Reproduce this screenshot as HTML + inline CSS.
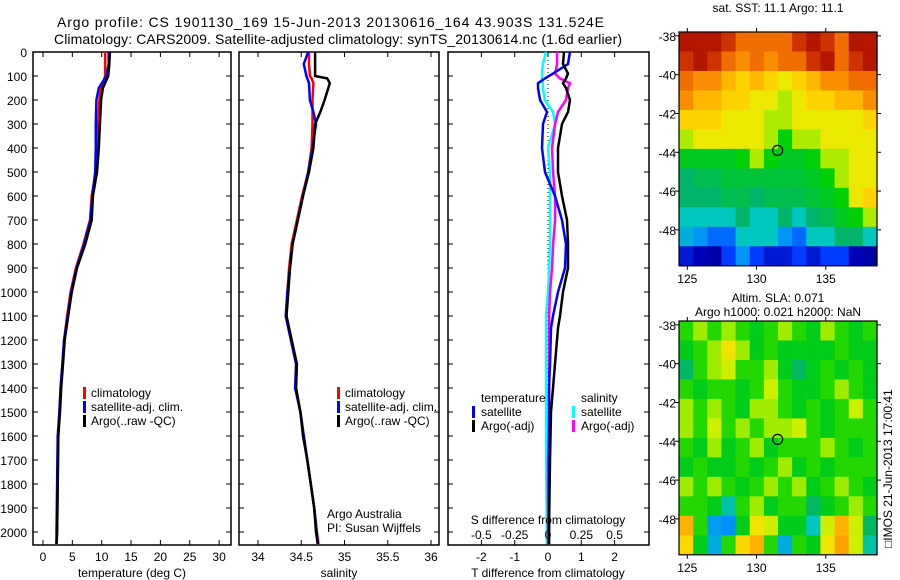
<!DOCTYPE html>
<html><head><meta charset="utf-8"><style>
body{margin:0;background:#fff}
svg{display:block;font-family:"Liberation Sans",sans-serif}
text{fill:#000}
</style></head><body>
<svg id="fig" width="900" height="580" viewBox="0 0 900 580" xmlns="http://www.w3.org/2000/svg">
<rect width="900" height="580" fill="#fff"/>
<text x="57" y="27" font-size="14" textLength="547">Argo profile: CS 1901130_169 15-Jun-2013 20130616_164 43.903S 131.524E</text>
<text x="54" y="44" font-size="14" textLength="568">Climatology: CARS2009. Satellite-adjusted climatology: synTS_20130614.nc (1.6d earlier)</text>
<g id="g1"></g>
<g id="g2"></g>
<g id="g3"></g>
<g id="m1"></g>
<g id="m2"></g>
<text x="778" y="12" font-size="12" text-anchor="middle">sat. SST: 11.1 Argo: 11.1</text>
<text x="778" y="302" font-size="12" text-anchor="middle">Altim. SLA: 0.071</text>
<text x="778" y="316" font-size="12" text-anchor="middle">Argo h1000: 0.021 h2000: NaN</text>
<text transform="translate(892,548) rotate(-90)" font-size="12">□IMOS 21-Jun-2013 17:00:41</text>
</svg>
<script>
const depthT=[0,50,100,150,200,300,400,500,600,700,800,900,1000,1100,1200,1300,1400,1500,1600,1800,2000,2050];
const argoT=[11.4,11.3,11.1,10.2,9.9,9.7,9.5,9.2,8.5,8.3,7.2,5.8,4.9,4.3,3.7,3.4,3.1,2.9,2.6,2.5,2.4,2.3];
const climT=[10.6,10.6,10.6,9.9,9.6,9.4,9.2,9.0,8.3,8.0,6.9,5.6,4.7,4.1,3.6,3.3,3.0,2.8,2.6,2.5,2.4,2.3];
const satT=[11.2,11.2,10.8,9.5,9.1,9.0,9.0,8.9,8.4,8.1,7.0,5.7,4.8,4.2,3.6,3.3,3.0,2.8,2.5,2.4,2.3,2.3];
const depthS=[0,50,100,110,130,200,250,300,400,500,600,700,800,900,1000,1100,1200,1300,1400,1500,1600,1700,1800,1900,2000,2050];
const argoS=[34.66,34.66,34.66,34.80,34.83,34.77,34.72,34.66,34.64,34.59,34.52,34.46,34.40,34.37,34.35,34.33,34.39,34.45,34.44,34.49,34.52,34.57,34.61,34.65,34.67,34.69];
const climS=[34.59,34.59,34.60,34.62,34.64,34.63,34.63,34.63,34.62,34.58,34.51,34.45,34.39,34.36,34.34,34.33,34.38,34.44,34.43,34.49,34.53,34.57,34.61,34.65,34.68,34.70];
const satS=[34.58,34.53,34.56,34.57,34.59,34.60,34.64,34.67,34.63,34.58,34.52,34.46,34.40,34.37,34.34,34.32,34.38,34.44,34.43,34.49,34.53,34.57,34.61,34.65,34.68,34.69];
const depthD=[0,50,90,110,130,150,200,250,300,400,500,550,600,700,800,900,1000,1100,1150,1300,1400,1500,1700,2000,2050];
const argoDT=[0.48,0.45,0.6,0.54,0.45,0.54,0.66,0.6,0.42,0.3,0.3,0.36,0.42,0.57,0.6,0.6,0.45,0.36,0.3,0.21,0.15,0.09,0.06,0.03,0.03];
const satDT=[0.66,0.6,0.15,-0.09,-0.3,-0.3,-0.24,-0.03,-0.15,-0.18,-0.09,0.06,0.21,0.42,0.54,0.51,0.3,0.15,0.09,0.06,0.03,0.03,0.03,0.03,0.03];
const satDS=[-0.015,-0.038,-0.045,-0.045,-0.038,-0.038,-0.023,0.038,0.053,0,0.015,0.015,0.015,0.015,0.015,0.008,0,-0.015,-0.015,-0.015,-0.015,-0.015,-0.015,-0.008,-0.008];
const argoDS=[0.068,0.068,0.053,0.09,0.165,0.15,0.135,0.075,0.053,0.03,0.038,0.045,0.053,0.053,0.038,0.03,0.015,0.008,0.008,0.008,0.008,0.008,0,0,0];
const depthTicks=[0,100,200,300,400,500,600,700,800,900,1000,1100,1200,1300,1400,1500,1600,1700,1800,1900,2000];
const tempTicks=[0,5,10,15,20,25,30];
const salTicks=[34,34.5,35,35.5,36];
const tdiffTicks=[-2,-1,0,1,2];
const sdiffTicks=[-0.5,-0.25,0,0.25,0.5];
const sdiffLabels=["-0.5","-0.25","0","0.25","0.5"];
const lonTicks=[125,130,135];
const latTicks=[-38,-40,-42,-44,-46,-48];
const sstGrid=[
[14.6,14.6,14.6,14.2,13.6,13.6,13.6,13.6,14.2,14.6,14.2,13.6,14.6,14.6],
[14.2,14.6,14.2,13.6,13.3,13.6,13.3,13.6,13.6,14.2,14.6,13.6,14.2,14.6],
[13.6,13.3,13.3,12.9,12.6,12.9,12.6,12.3,12.6,12.9,13.3,13.3,13.6,13.6],
[13.3,12.9,12.9,12.6,12.6,12.3,12.3,12.0,12.3,12.6,12.6,12.9,12.9,13.3],
[12.6,12.6,12.6,12.3,12.3,12.3,12.0,12.0,12.3,12.3,12.3,12.3,12.3,12.6],
[12.0,12.3,12.3,12.3,12.3,12.3,12.0,11.6,12.0,12.0,12.3,12.3,12.3,12.3],
[11.4,11.4,11.4,11.4,11.6,12.0,11.6,11.4,11.4,11.6,12.0,12.0,12.3,12.3],
[11.1,11.2,11.2,11.3,11.3,11.3,11.3,11.3,11.3,11.4,11.6,12.0,12.3,12.3],
[11.1,11.1,11.1,11.2,11.2,11.1,11.2,11.2,11.2,11.3,11.4,11.6,12.3,12.6],
[10.8,10.8,10.8,10.8,11.1,10.8,10.8,11.1,10.8,11.1,11.2,11.4,11.6,12.0],
[10.5,10.2,9.8,9.8,10.8,10.8,10.8,10.2,9.8,10.8,10.8,11.1,11.1,10.8],
[9.0,8.7,8.5,9.4,10.2,9.4,9.0,9.0,9.4,9.0,9.4,9.4,8.7,8.5]];
const slaGrid=[
[0.05,0.08,0.05,0.08,0.05,0.02,0.05,0.08,0.05,0.02,0.08,0.05,0.02,0.05],
[0.02,0.05,0.08,0.13,0.08,0.02,0.05,0.02,0.02,0.02,0.02,0.05,0.02,0.02],
[-0.02,0.05,0.08,0.1,0.05,0.05,0.08,0.02,-0.02,0.02,0.05,0.02,0.05,0.02],
[0.05,0.02,0.05,0.05,0.02,0.05,0.1,0.05,0.02,0.02,0.05,0.08,0.05,0.02],
[0.08,0.05,0.08,0.05,0.02,0.08,0.08,0.05,0.02,0.05,0.02,0.05,0.1,0.05],
[0.08,0.05,0.1,0.05,0.08,0.05,0.08,0.08,0.1,0.05,0.02,0.05,0.05,0.05],
[0.05,0.02,0.08,0.02,0.05,0.08,0.02,0.05,0.05,0.05,0.08,0.05,0.02,0.05],
[0.02,0.05,0.02,0.02,0.05,0.02,0.05,0.08,0.02,0.05,0.02,0.05,0.05,0.05],
[0.08,0.05,0.08,0.05,0.02,0.05,0.08,0.05,0.08,0.02,0.05,0.08,0.05,0.02],
[0.05,0.05,0.02,-0.05,0.05,0.08,0.02,0.05,0.05,-0.02,0.02,0.05,0.08,0.05],
[0.2,0.05,-0.12,-0.14,0.02,0.13,0.1,0.02,0.02,-0.06,0.1,0.2,0.1,-0.02],
[0.15,0.02,-0.1,0.05,0.15,0.2,0.05,-0.1,0.05,0.02,0.13,0.22,0.1,-0.05]];
const argoLon=131.524, argoLat=-43.903;

const NS="http://www.w3.org/2000/svg";
function mk(p,tag,at){const e=document.createElementNS(NS,tag);for(const k in at)e.setAttribute(k,at[k]);p.appendChild(e);return e;}
const TOP=52,BOT=545;
const yD=d=>TOP+d*0.24;

function frame(g,x0,x1,name){
  const r=mk(g,'rect',{x:x0,y:TOP,width:x1-x0,height:BOT-TOP,fill:'none',stroke:'#000','stroke-width':1.5});
  
  
  depthTicks.forEach(d=>{
    mk(g,'line',{x1:x0,x2:x0+5,y1:yD(d),y2:yD(d),stroke:'#000'});
    mk(g,'line',{x1:x1-5,x2:x1,y1:yD(d),y2:yD(d),stroke:'#000'});
  });
}
function xticks(g,ticks,fx,labels){
  ticks.forEach((t,i)=>{
    const x=fx(t);
    mk(g,'line',{x1:x,x2:x,y1:BOT,y2:BOT-5,stroke:'#000'});
    mk(g,'line',{x1:x,x2:x,y1:TOP,y2:TOP+5,stroke:'#000'});
    const tx=mk(g,'text',{x:x,y:561,'font-size':12,'text-anchor':'middle'});
    tx.textContent=labels?labels[i]:String(t);
    
    
  });
}
function line(g,xs,ds,fx,color,name){
  const pts=xs.map((v,i)=>fx(v).toFixed(1)+','+yD(ds[i]).toFixed(1)).join(' ');
  const p=mk(g,'polyline',{points:pts,fill:'none',stroke:color,'stroke-width':2.5});
  
  
}
function txt(g,x,y,s,name,anchor){
  const t=mk(g,'text',{x:x,y:y,'font-size':12,'text-anchor':anchor||'start'});
  t.textContent=s;
  
  
  return t;
}
function legbar(g,x,y,color,name){
  const r=mk(g,'rect',{x:x,y:y-10,width:3,height:12,fill:color});
  
  
}

// Panel 1
const g1=document.getElementById('g1');
const fT=t=>43+5.87*t;
frame(g1,33,231,'temperature-panel');
depthTicks.forEach(d=>txt(g1,27,yD(d)+5,String(d),'depth-tick-label','end'));
xticks(g1,tempTicks,fT);
line(g1,climT,depthT,fT,'#f00','climatology-temperature-line');
line(g1,satT,depthT,fT,'#00f','satellite-temperature-line');
line(g1,argoT,depthT,fT,'#000','argo-temperature-line');
txt(g1,132,577,'temperature (deg C)','x-axis-title','middle');
[['climatology','#f00'],['satellite-adj. clim.','#00f'],['Argo(..raw -QC)','#000']].forEach((l,i)=>{
  legbar(g1,83,397+i*14,l[1],'legend-marker');
  txt(g1,91,397+i*14,l[0],'legend-entry');
});

// Panel 2
const g2=document.getElementById('g2');
const fS=s=>258+86.5*(s-34);
frame(g2,239,439,'salinity-panel');
xticks(g2,salTicks,fS);
line(g2,climS,depthS,fS,'#f00','climatology-salinity-line');
line(g2,satS,depthS,fS,'#00f','satellite-salinity-line');
line(g2,argoS,depthS,fS,'#000','argo-salinity-line');
txt(g2,339,577,'salinity','x-axis-title','middle');
[['climatology','#f00'],['satellite-adj. clim.','#00f'],['Argo(..raw -QC)','#000']].forEach((l,i)=>{
  legbar(g2,337,397+i*14,l[1],'legend-marker');
  txt(g2,345,397+i*14,l[0],'legend-entry');
});
txt(g2,327,518,'Argo Australia','credit-text');
txt(g2,327,532,'PI: Susan Wijffels','credit-text');

// Panel 3
const g3=document.getElementById('g3');
const fD=t=>548+33.3*t;
const fSD=s=>548+133.3*s;
frame(g3,448,649,'difference-panel');
xticks(g3,tdiffTicks,fD);
const zl=mk(g3,'line',{x1:548,x2:548,y1:TOP,y2:BOT,stroke:'#000','stroke-dasharray':'1,3'});


line(g3,satDS,depthD,fSD,'#0ff','satellite-salinity-diff-line');
line(g3,argoDS,depthD,fSD,'#f0f','argo-salinity-diff-line');
line(g3,satDT,depthD,fD,'#00f','satellite-temperature-diff-line');
line(g3,argoDT,depthD,fD,'#000','argo-temperature-diff-line');
txt(g3,548,577,'T difference from climatology','x-axis-title','middle');
txt(g3,548,524,'S difference from climatology','s-axis-title','middle');
sdiffTicks.forEach((s,i)=>txt(g3,fSD(s),539,sdiffLabels[i],'s-tick-label','middle'));
txt(g3,481,402,'temperature','legend-header');
txt(g3,581,402,'salinity','legend-header');
legbar(g3,472,416,'#00f','legend-marker');txt(g3,481,416,'satellite','legend-entry');
legbar(g3,472,430,'#000','legend-marker');txt(g3,481,430,'Argo(-adj)','legend-entry');
legbar(g3,572,416,'#0ff','legend-marker');txt(g3,581,416,'satellite','legend-entry');
legbar(g3,572,430,'#f0f','legend-marker');txt(g3,581,430,'Argo(-adj)','legend-entry');

// Maps
const stops=[[0,[0,0,130]],[0.1,[0,0,180]],[0.2,[0,60,255]],[0.3,[0,140,255]],[0.4,[0,200,190]],[0.44,[0,180,110]],[0.48,[0,200,40]],[0.52,[0,210,0]],[0.56,[150,235,0]],[0.6,[230,240,0]],[0.66,[255,210,0]],[0.72,[255,170,0]],[0.8,[240,110,0]],[0.9,[200,40,0]],[1,[150,0,0]]];
function cmap(t){t=Math.max(0,Math.min(1,t));for(let i=1;i<stops.length;i++){if(t<=stops[i][0]){const a=stops[i-1],b=stops[i],f=(t-a[0])/(b[0]-a[0]);const c=a[1].map((v,k)=>Math.round(v+(b[1][k]-v)*f));return 'rgb('+c.join(',')+')';}}return 'rgb(150,0,0)';}
function drawMap(id,grid,norm,top,name){
  const g=document.getElementById(id);
  const L=679,R=877,lon0=124.4,lon1=138.7,lat0=-37.8,lat1=-49.85;
  const B=top+(lat1-lat0)*-19.4;
  const fx=lo=>L+(lo-lon0)/(lon1-lon0)*(R-L);
  const fy=la=>top+(lat0-la)*19.4;
  const nr=grid.length,nc=grid[0].length,cw=(R-L)/nc,ch=(B-top)/nr;
  grid.forEach((row,r)=>row.forEach((v,c)=>{
    const cell=mk(g,'rect',{x:L+c*cw,y:top+r*ch,width:cw+0.6,height:ch+0.6,fill:cmap(norm(v))});
    
    
  }));
  mk(g,'rect',{x:L,y:top,width:R-L,height:B-top,fill:'none',stroke:'#000','stroke-width':1.2});
  latTicks.forEach(la=>{
    mk(g,'line',{x1:L-4,x2:L,y1:fy(la),y2:fy(la),stroke:'#000'});
    mk(g,'line',{x1:R,x2:R+4,y1:fy(la),y2:fy(la),stroke:'#000'});
    txt(g,L-3,fy(la)+5,String(la),'lat-tick-label','end');
  });
  lonTicks.forEach(lo=>{
    mk(g,'line',{x1:fx(lo),x2:fx(lo),y1:top-4,y2:top,stroke:'#000'});
    mk(g,'line',{x1:fx(lo),x2:fx(lo),y1:B,y2:B+4,stroke:'#000'});
    txt(g,fx(lo),B+17,String(lo),'lon-tick-label','middle');
  });
  const m=mk(g,'circle',{cx:fx(argoLon),cy:fy(argoLat),r:5,fill:'none',stroke:'#000','stroke-width':1.2});
  
  
}
drawMap('m1',sstGrid,v=>(v-8)/7,32,'sst');
drawMap('m2',slaGrid,v=>(v+0.4)/0.85,321,'sla');
</script>
</body></html>
